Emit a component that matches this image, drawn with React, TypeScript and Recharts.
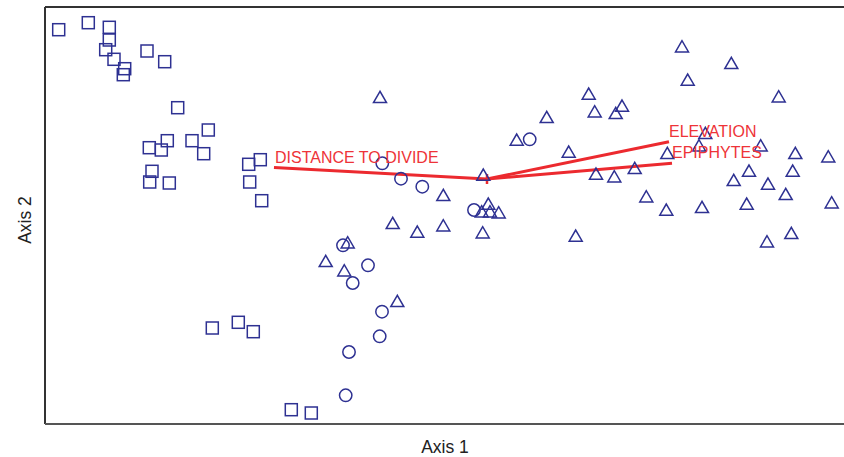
import React from 'react';
import { ScatterChart, Scatter, XAxis, YAxis, ReferenceLine } from 'recharts';

// Ordination scores (Axis 1, Axis 2)
const squareSites = [
  [13.7, 394.3], [43.3, 401.3], [64.3, 396.7], [64.3, 384], [60.7, 374.3], [69, 364.7],
  [79.7, 355.3], [78.3, 349.3], [102, 373], [119.7, 362.3], [132.7, 316.3], [163.3, 294],
  [147, 283.3], [158.7, 270.3], [122.3, 283.3], [116.3, 274], [104.3, 276.3], [107, 252.7],
  [104.7, 242], [124.3, 241], [203.7, 259.7], [215.3, 264.3], [204.7, 242], [216.7, 223.3],
  [167.3, 96], [193.3, 101.7], [208.3, 92.3], [246.3, 14.3], [266.3, 11],
];
const circleSites = [
  [337.3, 260.7], [356, 245.3], [377.3, 237.3], [484.7, 284.7], [429, 214], [298, 178.7],
  [323, 158.7], [307.7, 141], [337, 112.3], [334.7, 87.7], [304, 72], [300.7, 28.7],
];
const triangleSites = [
  [335, 326.7], [471.7, 284], [501.7, 306.7], [438.3, 249], [398.3, 228.7], [347.7, 200.7],
  [372.3, 192], [398.3, 198.3], [437.7, 191.3], [443.3, 220], [436.7, 212.3], [445, 212.3],
  [453.7, 211.3], [302.7, 181.3], [280.7, 162.7], [299.3, 153.3], [352.3, 122.7],
  [637, 377.3], [686.3, 360.7], [642.7, 344], [543.7, 330], [733.7, 327.3], [577, 318],
  [549.7, 312.3], [570.7, 310.7], [660.3, 290.7], [715.7, 278.3], [654, 278.3], [523.7, 272],
  [622.3, 270.7], [750.3, 270.7], [783.3, 267.3], [589.7, 255.7], [551, 250], [569.3, 247.3],
  [704, 253], [747.7, 253], [688.7, 243.7], [723, 240], [740.7, 229.7], [601.3, 227.3],
  [621.3, 214], [657, 216.7], [701.7, 220], [786.7, 221.3], [530.7, 188], [722, 182.3],
  [746.3, 190.7],
];

// Biplot vectors
const vectorOrigin = [442, 245];
const vectorNames = ['DISTANCE TO DIVIDE', 'ELEVATION', 'EPIPHYTES'];
const vectorTips = [[229, 256.5], [624, 282.3], [627, 260.7]];
const vectorLabelPos = [[230, 261], [624, 287], [627, 266]];

const toPts = (arr: number[][]) => arr.map(([x, y]) => ({ x, y }));

const NAVY = '#2E3192';
const RED = '#EC2A2F';

const SquareShape = (p: any) => (
  <rect x={p.cx - 6} y={p.cy - 6} width={12} height={12} fill="none" stroke={NAVY} strokeWidth={1.5} />
);
const CircleShape = (p: any) => (
  <circle cx={p.cx} cy={p.cy} r={6.2} fill="none" stroke={NAVY} strokeWidth={1.5} />
);
const TriangleShape = (p: any) => (
  <polygon
    points={`${p.cx},${p.cy - 6} ${p.cx - 6.5},${p.cy + 5.2} ${p.cx + 6.5},${p.cy + 5.2}`}
    fill="none"
    stroke={NAVY}
    strokeWidth={1.5}
    strokeLinejoin="miter"
  />
);
const LabelShape = (p: any) => (
  <text x={p.cx} y={p.cy} fill="#EE3338" fontSize={16} fontFamily="Liberation Sans, Arial, sans-serif">
    {p.payload.name}
  </text>
);

const labelData = vectorLabelPos.map(([x, y], i) => ({ x, y, name: vectorNames[i] }));

export default function App() {
  return (
    <div style={{ position: 'absolute', left: 0, top: 0, width: 844, height: 457, background: '#fff' }}>
      <ScatterChart width={844} height={457} margin={{ top: 7, right: 0, bottom: 33, left: 45 }}>
        <XAxis type="number" dataKey="x" domain={[0, 799]} hide />
        <YAxis type="number" dataKey="y" domain={[0, 417]} hide />
        <ReferenceLine x={0} stroke="#333" strokeWidth={2} ifOverflow="visible" />
        <ReferenceLine y={417} stroke="#333" strokeWidth={2} ifOverflow="visible" />
        <ReferenceLine y={0} stroke="#555" strokeWidth={2} ifOverflow="visible" />
        <Scatter data={toPts(squareSites)} shape={SquareShape} isAnimationActive={false} />
        <Scatter data={toPts(circleSites)} shape={CircleShape} isAnimationActive={false} />
        <Scatter data={toPts(triangleSites)} shape={TriangleShape} isAnimationActive={false} />
        {vectorTips.map(([x, y], i) => (
          <ReferenceLine
            key={i}
            segment={[{ x: vectorOrigin[0], y: vectorOrigin[1] }, { x, y }]}
            stroke={RED}
            strokeWidth={3}
            ifOverflow="visible"
          />
        ))}
        <ReferenceLine
          segment={[{ x: vectorOrigin[0], y: vectorOrigin[1] + 5 }, { x: vectorOrigin[0], y: vectorOrigin[1] - 5 }]}
          stroke={RED}
          strokeWidth={2.5}
          ifOverflow="visible"
        />
        <Scatter data={labelData} shape={LabelShape} isAnimationActive={false} />
      </ScatterChart>
      <svg width={844} height={457} style={{ position: 'absolute', left: 0, top: 0, pointerEvents: 'none' }}>
        <text x={445} y={453} textAnchor="middle" fontSize={17.5} fill="#222" fontFamily="Liberation Sans, Arial, sans-serif">
          Axis 1
        </text>
        <text
          x={0}
          y={0}
          transform="translate(31,220) rotate(-90)"
          textAnchor="middle"
          fontSize={17.5}
          fill="#222"
          fontFamily="Liberation Sans, Arial, sans-serif"
        >
          Axis 2
        </text>
      </svg>
    </div>
  );
}
